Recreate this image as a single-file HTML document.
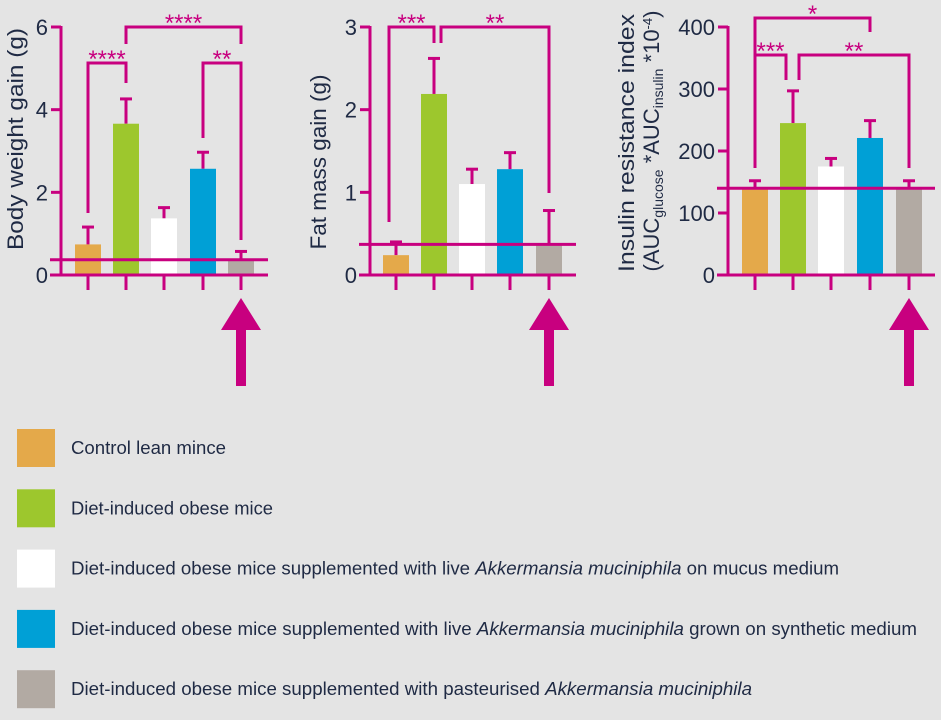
<!DOCTYPE html>
<html><head><meta charset="utf-8"><style>
html,body{margin:0;padding:0;background:#e4e4e4;}
svg{display:block;font-family:"Liberation Sans",sans-serif;}
</style></head><body>
<svg id="c" width="941" height="720" viewBox="0 0 941 720"></svg>
<script>
const groups = ["Control lean mince","Diet-induced obese mice","Live A. muciniphila on mucus","Live A. muciniphila synthetic","Pasteurised A. muciniphila"];
const colors = ["#e4a94a","#9dc72d","#ffffff","#00a0d6","#b2aaa3"];
const bwValues = [0.74, 3.66, 1.37, 2.57, 0.34];
const bwErrors = [1.16, 4.26, 1.63, 2.97, 0.57];
const bwTicks = [0, 2, 4, 6];
const fmValues = [0.24, 2.19, 1.1, 1.28, 0.36];
const fmErrors = [0.4, 2.62, 1.28, 1.48, 0.78];
const fmTicks = [0, 1, 2, 3];
const irValues = [138, 245, 175, 221, 138];
const irErrors = [152, 297, 188, 249, 152];
const irTicks = [0, 100, 200, 300, 400];
const refLines = [0.37, 0.37, 140];

const M = "#c8007f", INK = "#1f2a44";
const svg = document.getElementById('c');
const NS = "http://www.w3.org/2000/svg";
function mk(tag, attrs, parent){const e=document.createElementNS(NS,tag);for(const k in attrs)e.setAttribute(k,attrs[k]);(parent||svg).appendChild(e);return e;}

const panels = [
 {name:"body-weight", axisX:61, centers:[88,126,164,203,241], max:6, ticks:bwTicks, vals:bwValues, errs:bwErrors, ref:refLines[0], right:268,
  brackets:[[0,213,1,83,63,"****"],[1,44,4,44,27,"****"],[3,138,4,240,63,"**"]]},
 {name:"fat-mass", axisX:370, centers:[396,434,472,510,549], max:3, ticks:fmTicks, vals:fmValues, errs:fmErrors, ref:refLines[1], right:576,
  brackets:[[0,222,1,43,27,"***",-7,0],[1,43,4,193,27,"**",7,0]]},
 {name:"insulin-resistance", axisX:728, centers:[755,793,831,870,909], max:400, ticks:irTicks, vals:irValues, errs:irErrors, ref:refLines[2], right:935,
  brackets:[[0,168,3,32,18,"*"],[0,55,1,80,55,"***",0,-7],[1,80,4,168,55,"**",6,0]]}
];
const Y0=275, Y1=27;
panels.forEach(p=>{
  const g = mk('g',{});
  
  
  const y = v => Y0 - v/p.max*(Y0-Y1);
  p.vals.forEach((v,i)=>{
    const cx=p.centers[i];
    const ey=y(p.errs[i]);
    const el=mk('line',{x1:cx,x2:cx,y1:y(v),y2:ey,stroke:M,'stroke-width':3},g);
    
    
    mk('line',{x1:cx-6,x2:cx+6,y1:ey,y2:ey,stroke:M,'stroke-width':3},g);
    const r=mk('rect',{x:cx-13,y:y(v),width:26,height:Y0-y(v),fill:colors[i]},g);
    
    
  });
  mk('line',{x1:p.axisX,x2:p.axisX,y1:Y1-1,y2:Y0,stroke:M,'stroke-width':3},g);
  mk('line',{x1:p.axisX-11,x2:p.right,y1:Y0,y2:Y0,stroke:M,'stroke-width':3},g);
  const rl=mk('line',{x1:p.axisX-11,x2:p.right,y1:y(p.ref),y2:y(p.ref),stroke:M,'stroke-width':3},g);
  
  
  p.ticks.forEach(t=>{
    mk('line',{x1:p.axisX-10,x2:p.axisX,y1:y(t),y2:y(t),stroke:M,'stroke-width':3},g);
    const tx=mk('text',{x:p.axisX-13,y:y(t)+8,'text-anchor':'end','font-size':22,fill:INK},g);
    tx.textContent=t;
    
    
  });
  p.centers.forEach(cx=>mk('line',{x1:cx,x2:cx,y1:Y0,y2:290,stroke:M,'stroke-width':3},g));
  p.brackets.forEach(b=>{
    const x1=p.centers[b[0]]+(b[6]||0), x2=p.centers[b[2]]+(b[7]||0);
    const pl=mk('polyline',{points:`${x1},${b[1]} ${x1},${b[4]} ${x2},${b[4]} ${x2},${b[3]}`,fill:'none',stroke:M,'stroke-width':3},g);
    
    
    const st=mk('text',{x:(x1+x2)/2,y:b[4]+4,'text-anchor':'middle','font-size':24,fill:M},g);
    st.textContent=b[5];
    
    
  });
  const ax=p.centers[4];
  const ar=mk('polygon',{points:`${ax},298 ${ax+20},330 ${ax+5},330 ${ax+5},386 ${ax-5},386 ${ax-5},330 ${ax-20},330`,fill:M},g);
  
  
});
</script>
<script>
(function(){
  const NS="http://www.w3.org/2000/svg", svg=document.getElementById('c'), INK="#1f2a44";
  function t(x,y,txt,name,len){const e=document.createElementNS(NS,'text');e.setAttribute('x',x);e.setAttribute('y',y);e.setAttribute('transform',`rotate(-90 ${x} ${y})`);e.setAttribute('text-anchor','middle');e.setAttribute('font-size','22');e.setAttribute('fill',INK);if(len){e.setAttribute('textLength',len);e.setAttribute('lengthAdjust','spacingAndGlyphs');}e.innerHTML=txt;svg.appendChild(e);}
  t(23,139,"Body weight gain (g)","y-axis-title-body-weight",222);
  t(326,162,"Fat mass gain (g)","y-axis-title-fat-mass",175);
  t(634,143,"Insulin resistance index","y-axis-title-insulin",258);
  t(659,141,"(AUC<tspan font-size='14' dy='4'>glucose</tspan><tspan dy='-4'> *AUC</tspan><tspan font-size='14' dy='4'>insulin</tspan><tspan dy='-4'> *10</tspan><tspan font-size='13' dy='-7'>-4</tspan><tspan dy='7'>)</tspan>","y-axis-title-insulin-units");
  const colors=["#e4a94a","#9dc72d","#ffffff","#00a0d6","#b2aaa3"];
  const labels=["Control lean mince","Diet-induced obese mice",
   "Diet-induced obese mice supplemented with live <tspan font-style='italic'>Akkermansia muciniphila</tspan> on mucus medium",
   "Diet-induced obese mice supplemented with live <tspan font-style='italic'>Akkermansia muciniphila</tspan> grown on synthetic medium",
   "Diet-induced obese mice supplemented with pasteurised <tspan font-style='italic'>Akkermansia muciniphila</tspan>"];
  const lens=[155,202,768,846,681];
  labels.forEach((l,i)=>{
    const cy=448+i*60.3;
    const r=document.createElementNS(NS,'rect');
    r.setAttribute('x',17);r.setAttribute('y',cy-19);r.setAttribute('width',38);r.setAttribute('height',38);r.setAttribute('fill',colors[i]);
    
    
    svg.appendChild(r);
    const e=document.createElementNS(NS,'text');
    e.setAttribute('x',71);e.setAttribute('y',cy+6);e.setAttribute('font-size','18');e.setAttribute('fill',INK);
    e.setAttribute('textLength',lens[i]);e.setAttribute('lengthAdjust','spacingAndGlyphs');
    
    
    e.innerHTML=l;svg.appendChild(e);
  });
})();
</script>
</body></html>
